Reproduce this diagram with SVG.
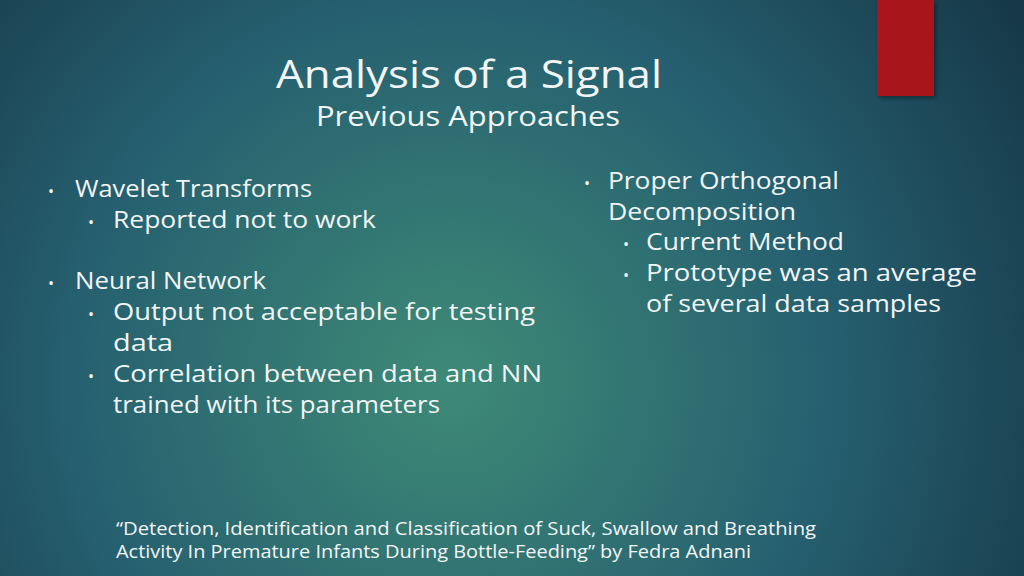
<svg xmlns="http://www.w3.org/2000/svg" width="1024" height="576" viewBox="0 0 1024 576">
<defs>
<radialGradient id="bg" cx="450" cy="380" r="680" gradientUnits="userSpaceOnUse">
<stop offset="0" stop-color="#3e8a76"/>
<stop offset="0.55" stop-color="#266070"/>
<stop offset="1" stop-color="#163848"/>
</radialGradient>
<filter id="sh" x="-20%" y="-20%" width="150%" height="150%"><feDropShadow dx="2" dy="2" stdDeviation="2" flood-opacity="0.4"/></filter>
</defs>
<style>
text{font-family:"Open Sans","Liberation Sans",sans-serif;fill:#f2f5f5}
.b{font-size:24px}
.f{font-size:18px}
.d{font-size:16px}
</style>
<rect width="1024" height="576" fill="url(#bg)"/>
<rect x="877" y="0" width="57" height="96" fill="#a8171a" filter="url(#sh)"/>
<text x="276" y="88" font-size="39" textLength="386" lengthAdjust="spacingAndGlyphs">Analysis of a Signal</text>
<text x="316" y="126" font-size="27" textLength="304" lengthAdjust="spacingAndGlyphs">Previous Approaches</text>
<g>
<text x="48" y="197" class="d">•</text><text x="75" y="197" class="b" textLength="237" lengthAdjust="spacingAndGlyphs">Wavelet Transforms</text>
<text x="88" y="228" class="d">•</text><text x="113" y="228" class="b" textLength="263" lengthAdjust="spacingAndGlyphs">Reported not to work</text>
<text x="48" y="289" class="d">•</text><text x="75" y="289" class="b" textLength="191" lengthAdjust="spacingAndGlyphs">Neural Network</text>
<text x="88" y="320" class="d">•</text><text x="113" y="320" class="b" textLength="422" lengthAdjust="spacingAndGlyphs">Output not acceptable for testing</text>
<text x="113" y="351" class="b" textLength="60" lengthAdjust="spacingAndGlyphs">data</text>
<text x="88" y="382" class="d">•</text><text x="113" y="382" class="b" textLength="429" lengthAdjust="spacingAndGlyphs">Correlation between data and NN</text>
<text x="113" y="413" class="b" textLength="327" lengthAdjust="spacingAndGlyphs">trained with its parameters</text>
<text x="584" y="189" class="d">•</text><text x="608" y="189" class="b" textLength="231" lengthAdjust="spacingAndGlyphs">Proper Orthogonal</text>
<text x="608" y="220" class="b" textLength="188" lengthAdjust="spacingAndGlyphs">Decomposition</text>
<text x="623" y="250" class="d">•</text><text x="646" y="250" class="b" textLength="198" lengthAdjust="spacingAndGlyphs">Current Method</text>
<text x="623" y="281" class="d">•</text><text x="646" y="281" class="b" textLength="331" lengthAdjust="spacingAndGlyphs">Prototype was an average</text>
<text x="646" y="312" class="b" textLength="295" lengthAdjust="spacingAndGlyphs">of several data samples</text>
</g>
<text x="116" y="535" class="f" textLength="700" lengthAdjust="spacingAndGlyphs">“Detection, Identification and Classification of Suck, Swallow and Breathing</text>
<text x="116" y="558" class="f" textLength="635" lengthAdjust="spacingAndGlyphs">Activity In Premature Infants During Bottle-Feeding” by Fedra Adnani</text>
</svg>
